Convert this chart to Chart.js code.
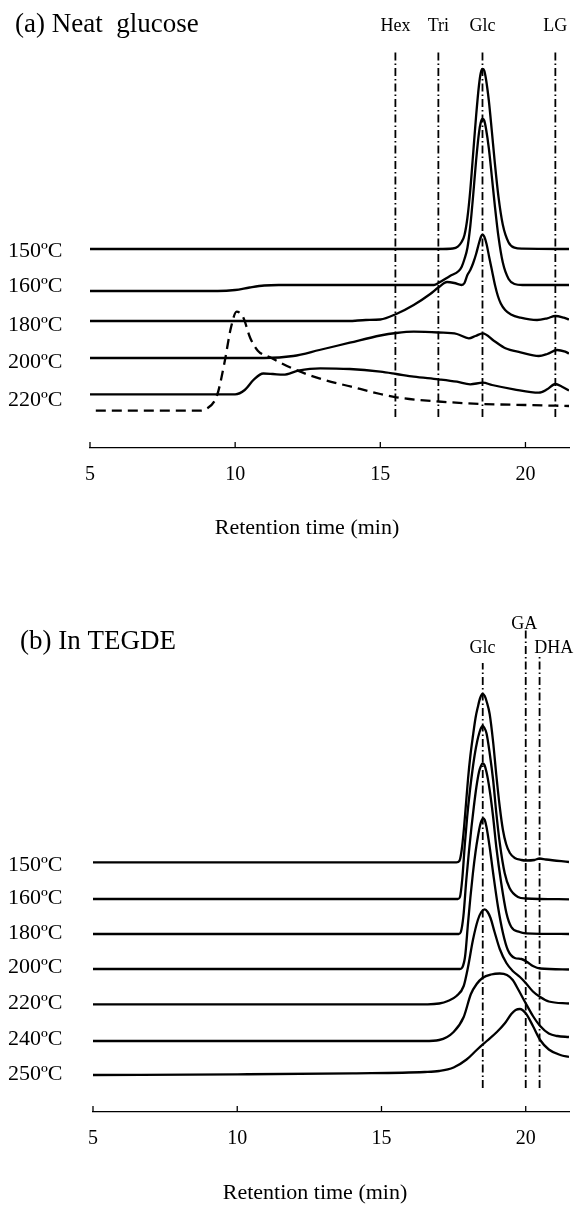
<!DOCTYPE html>
<html>
<head>
<meta charset="utf-8">
<script src="https://cdn.jsdelivr.net/npm/chart.js@4.4.0/dist/chart.umd.min.js"></script>
<style>
    html, body { margin: 0; padding: 0; background: #fff; }
    canvas { display: block; }
</style>
</head>
<body>
<canvas id="chartNeat" width="577" height="560"></canvas>
<canvas id="chartTegde" width="577" height="648"></canvas>
<script>
// ---- data: [retention time (min), signal (a.u., offset per trace)] ----
const xTicks = [5, 10, 15, 20];

// (a) Neat glucose
const neat150 = [[5, 199], [17.0, 199], [17.5, 199.5], [17.67, 201.4], [17.8, 206], [17.9, 213], [18.0, 230], [18.1, 258], [18.2, 295], [18.3, 332], [18.4, 363], [18.46, 375], [18.52, 379], [18.58, 377.4], [18.64, 369], [18.74, 347], [18.84, 317.5], [18.94, 286.6], [19.07, 251.4], [19.22, 223.3], [19.42, 205.6], [19.62, 200.3], [19.9, 199.3], [21.5, 199]];
const neat160 = [[5, 157], [9.4, 157], [10.0, 158], [10.5, 160.5], [11.0, 162.5], [11.5, 163], [16.85, 163], [17.0, 165], [17.4, 172], [17.7, 177], [17.8, 181], [17.9, 189], [18.0, 200], [18.1, 222], [18.2, 253], [18.3, 287.5], [18.4, 315.4], [18.46, 325.5], [18.52, 329], [18.58, 327.5], [18.64, 319.5], [18.74, 299.3], [18.84, 272], [18.94, 243.8], [19.07, 211.3], [19.22, 185.4], [19.42, 169], [19.62, 164], [19.9, 163], [21.5, 163]];
const neat180 = [[5, 127], [13.9, 127], [14.5, 128], [15.0, 128.5], [15.55, 134], [16.15, 143], [16.72, 154], [17.0, 160.5], [17.3, 166], [17.55, 165], [17.8, 163], [17.9, 165], [18.0, 173], [18.1, 178], [18.2, 185], [18.3, 194], [18.4, 205], [18.47, 211.5], [18.52, 213.5], [18.58, 211.5], [18.66, 204], [18.75, 191], [18.85, 177], [18.95, 163], [19.05, 152], [19.15, 144.5], [19.3, 138], [19.5, 133.5], [19.83, 130.3], [20.4, 128], [20.75, 129.7], [21.03, 132], [21.32, 130.3], [21.5, 128.5]];
const neat200 = [[5, 90], [11.0, 90], [12.0, 92], [12.9, 98], [13.95, 105.3], [15.0, 112.5], [15.55, 115], [16.15, 116.3], [17.0, 115.5], [17.64, 114], [18.05, 109.7], [18.28, 112], [18.53, 114.7], [18.91, 107.3], [19.31, 99.7], [19.83, 95.7], [20.46, 92], [20.75, 94], [21.09, 98], [21.37, 96.3], [21.5, 94.5]];
const neat220 = [[5, 53.7], [10.0, 53.7], [10.33, 58], [10.65, 68.7], [10.97, 74.5], [11.3, 74], [11.66, 73.3], [12.17, 77.3], [12.93, 79.7], [13.95, 79], [15.0, 76.3], [15.55, 74], [16.15, 71.3], [17.0, 68.7], [17.64, 66.3], [18.1, 63.7], [18.53, 65.3], [18.85, 63], [19.6, 58.7], [20.46, 55.3], [20.75, 58.7], [21.03, 64], [21.26, 61.3], [21.5, 57.5]];
const neatDashed = [[5.2, 37.3], [8.75, 37.3], [9.0, 39], [9.38, 53], [9.63, 85], [9.86, 121], [10.05, 136.3], [10.27, 131], [10.52, 110], [10.78, 97.3], [11.2, 90.7], [12.04, 78.7], [13.0, 68.7], [14.0, 61.3], [15.0, 54], [15.55, 50.7], [16.0, 49], [17.0, 46.5], [18.53, 44], [20.0, 43], [21.03, 42.3], [21.5, 42]];
const neatTemps = ['150ºC', '160ºC', '180ºC', '200ºC', '220ºC'];
const neatTempLevels = [197, 162, 123, 86, 48];
const neatMarkers = ['Hex', 'Tri', 'Glc', 'LG'];
const neatMarkerTimes = [15.52, 17.0, 18.52, 21.03];
const neatMarkerLow = [31, 31, 31, 31];
const neatMarkerHigh = [398, 398, 398, 398];
const neatMarkerLabelLevels = [422, 422, 422, 422];

// (b) In TEGDE
const tegde150 = [[5, 249.7], [17.6, 249.7], [17.7, 251], [17.78, 262], [17.86, 284], [17.94, 312], [18.0, 333], [18.08, 356], [18.17, 376], [18.26, 394], [18.34, 405], [18.42, 414], [18.5, 418], [18.58, 416], [18.65, 410], [18.75, 398], [18.87, 370], [18.98, 337], [19.1, 305], [19.21, 282], [19.32, 268], [19.45, 259], [19.62, 254], [19.85, 252], [20.0, 251.5], [20.3, 252], [20.48, 253.5], [20.7, 252.5], [21.5, 250]];
const tegde160 = [[5, 213], [17.65, 213], [17.72, 215], [17.8, 233], [17.89, 268], [17.97, 295], [18.06, 320], [18.15, 341], [18.23, 357], [18.32, 371], [18.4, 380], [18.45, 384], [18.5, 386], [18.56, 384.5], [18.64, 378.7], [18.75, 359], [18.87, 332], [18.98, 299], [19.1, 269], [19.27, 239], [19.44, 224], [19.73, 215], [20.0, 213.5], [21.5, 212.7]];
const tegde180 = [[5, 178], [17.68, 178], [17.75, 180], [17.84, 196], [17.94, 232], [18.03, 260], [18.12, 285], [18.2, 305], [18.29, 325], [18.38, 340], [18.44, 345.5], [18.5, 348.7], [18.57, 347], [18.64, 340], [18.75, 322], [18.87, 295], [18.98, 265], [19.15, 229], [19.33, 199], [19.5, 185], [19.79, 180], [20.0, 178.7], [21.5, 178]];
const tegde200 = [[5, 143], [17.72, 143], [17.8, 144.5], [17.9, 156], [18.0, 189], [18.08, 214], [18.17, 239], [18.26, 260], [18.34, 275], [18.42, 287], [18.47, 291.5], [18.52, 293.7], [18.58, 292], [18.64, 285], [18.75, 265], [18.87, 239], [19.04, 205], [19.21, 179], [19.38, 162], [19.62, 154], [19.85, 153], [20.05, 150], [20.25, 146], [20.5, 143.5], [21.5, 142.5]];
const tegde220 = [[5, 107.7], [16.6, 107.7], [17.0, 108.5], [17.3, 111], [17.6, 116], [17.85, 126], [18.0, 145], [18.17, 172], [18.34, 192], [18.46, 200], [18.58, 202.7], [18.68, 200], [18.78, 194], [18.92, 180], [19.1, 163], [19.33, 149], [19.55, 141], [19.8, 135], [20.0, 129], [20.25, 120.5], [20.5, 115], [20.8, 110.5], [21.5, 108.5]];
const tegde240 = [[5, 71], [16.5, 71], [17.0, 72], [17.5, 80], [17.85, 95], [18.1, 118], [18.3, 128], [18.5, 134], [18.8, 137.5], [19.1, 138.5], [19.35, 137], [19.55, 132], [19.75, 122], [20.0, 108.7], [20.25, 96], [20.5, 86], [20.8, 78.5], [21.1, 76], [21.5, 75]];
const tegde250 = [[5, 37], [10, 37.7], [14, 38.7], [16.5, 40], [17.0, 41], [17.5, 44.5], [17.95, 52.5], [18.3, 62], [18.65, 71], [19.0, 80], [19.27, 88.5], [19.5, 98], [19.65, 102], [19.8, 103], [20.0, 98.7], [20.25, 86], [20.5, 72], [20.8, 62.5], [21.2, 57], [21.5, 55]];
const tegdeTemps = ['150ºC', '160ºC', '180ºC', '200ºC', '220ºC', '240ºC', '250ºC'];
const tegdeTempLevels = [247, 214, 179, 145, 109, 73, 38];
const tegdeMarkers = ['Glc', 'GA', 'DHA'];
const tegdeMarkerTimes = [18.51, 20.0, 20.48];
const tegdeMarkerLow = [24, 24, 24];
const tegdeMarkerHigh = [449, 482, 457];
const tegdeMarkerLabelTimes = [18.5, 19.95, 20.97];
const tegdeMarkerLabelLevels = [464, 488, 464];

const FONT = '"Liberation Serif", "Times New Roman", serif';

function curve(points, dashed) {
    return {
        data: points.map(([x, y]) => ({ x: x, y: y })),
        borderColor: '#000',
        borderWidth: 2.3,
        borderDash: dashed ? [10, 6] : [],
        pointRadius: 0,
        fill: false,
        cubicInterpolationMode: 'monotone'
    };
}

function markerLines(times, low, high) {
    return times.map((t, i) => ({
        data: [{ x: t, y: low[i] }, { x: t, y: high[i] }],
        borderColor: '#000',
        borderWidth: 1.8,
        borderDash: [8, 3, 1.5, 3],
        pointRadius: 0,
        fill: false
    }));
}

// titles, compound names, temperatures and the inward tick marks
function decorations(panel) {
    return {
        id: 'decorations',
        afterDraw(chart) {
            const ctx = chart.ctx;
            const x = chart.scales.x;
            const y = chart.scales.y;
            ctx.save();
            ctx.fillStyle = '#000';
            ctx.strokeStyle = '#000';
            ctx.lineWidth = 1.3;
            xTicks.forEach(v => {
                const px = x.getPixelForValue(v);
                ctx.beginPath();
                ctx.moveTo(px, y.bottom);
                ctx.lineTo(px, y.bottom - 6);
                ctx.stroke();
            });
            ctx.textBaseline = 'middle';
            ctx.textAlign = 'left';
            ctx.font = '27px ' + FONT;
            ctx.fillText(panel.title, panel.titleX, panel.titleY);

            ctx.textAlign = 'center';
            ctx.font = '18px ' + FONT;
            panel.markers.forEach((m, i) => {
                ctx.fillText(m, x.getPixelForValue(panel.markerLabelTimes[i]),
                    y.getPixelForValue(panel.markerLabelLevels[i]));
            });

            ctx.textAlign = 'left';
            ctx.font = '22px ' + FONT;
            panel.temps.forEach((t, i) => {
                ctx.fillText(t, 8, y.getPixelForValue(panel.tempLevels[i]));
            });

            ctx.textAlign = 'center';
            ctx.fillText('Retention time (min)', panel.axisTitleX, panel.axisTitleY);
            ctx.restore();
        }
    };
}

function buildPanel(canvasId, panel) {
    new Chart(document.getElementById(canvasId), {
        type: 'line',
        data: { datasets: panel.datasets },
        options: {
            responsive: false,
            animation: false,
            events: [],
            layout: { padding: panel.padding },
            plugins: { legend: { display: false }, tooltip: { enabled: false } },
            scales: {
                x: {
                    type: 'linear',
                    min: 5,
                    max: 21.5,
                    afterBuildTicks: (scale) => { scale.ticks = xTicks.map(v => ({ value: v })); },
                    grid: { display: false, drawTicks: false },
                    border: { display: true, color: '#000', width: 1.3 },
                    ticks: { color: '#000', padding: 15, maxRotation: 0, font: { family: FONT, size: 20 } }
                },
                y: { display: false, min: 0, max: panel.yMax }
            }
        },
        plugins: [decorations(panel)]
    });
}

buildPanel('chartNeat', {
    title: '(a) Neat  glucose',
    titleX: 15, titleY: 25,
    axisTitleX: 307, axisTitleY: 528,
    padding: { top: 48, left: 90, right: 8, bottom: 58 },
    yMax: 400,
    temps: neatTemps, tempLevels: neatTempLevels,
    markers: neatMarkers, markerLabelTimes: neatMarkerTimes, markerLabelLevels: neatMarkerLabelLevels,
    datasets: [
        curve(neat150), curve(neat160), curve(neat180), curve(neat200), curve(neat220),
        curve(neatDashed, true),
        ...markerLines(neatMarkerTimes, neatMarkerLow, neatMarkerHigh)
    ]
});

buildPanel('chartTegde', {
    title: '(b) In TEGDE',
    titleX: 20, titleY: 82,
    axisTitleX: 315, axisTitleY: 633,
    padding: { top: 60, left: 93, right: 8, bottom: 42 },
    yMax: 492,
    temps: tegdeTemps, tempLevels: tegdeTempLevels,
    markers: tegdeMarkers, markerLabelTimes: tegdeMarkerLabelTimes, markerLabelLevels: tegdeMarkerLabelLevels,
    datasets: [
        curve(tegde150), curve(tegde160), curve(tegde180), curve(tegde200),
        curve(tegde220), curve(tegde240), curve(tegde250),
        ...markerLines(tegdeMarkerTimes, tegdeMarkerLow, tegdeMarkerHigh)
    ]
});
</script>
</body>
</html>
